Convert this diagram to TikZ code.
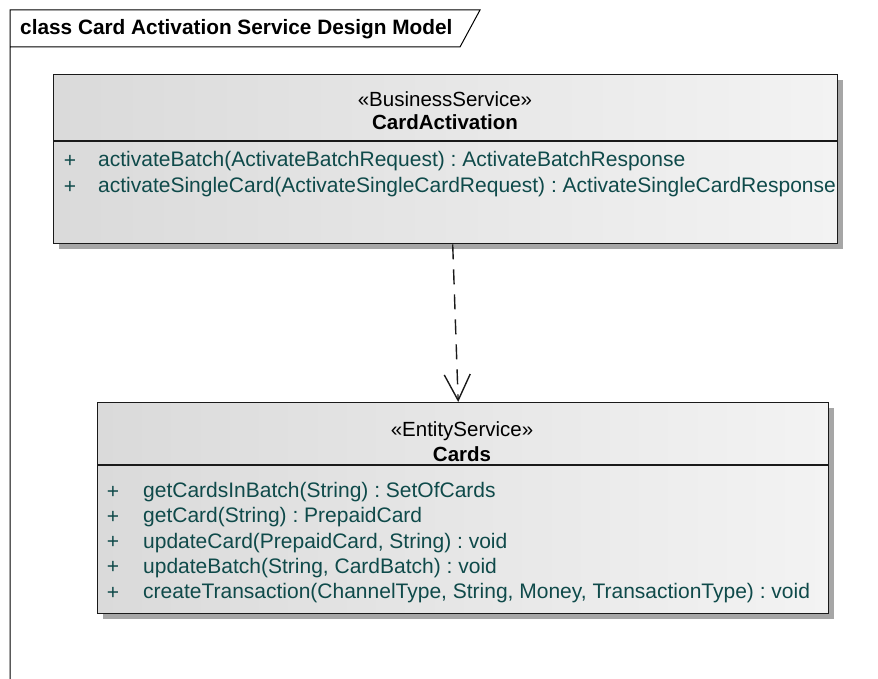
\documentclass[tikz,border=0pt]{standalone}
\usepackage{fontspec}
\setmainfont{Liberation Sans}
\usetikzlibrary{positioning,arrows.meta,shadows}
\definecolor{ClassLeft}{HTML}{DADADA}
\definecolor{ClassRight}{HTML}{F3F3F3}
\definecolor{ClassLine}{HTML}{1A1A1A}
\definecolor{ClassShadow}{HTML}{A6A6A6}
\definecolor{OpTeal}{HTML}{0F4A4A}
\frenchspacing

\begin{document}
\begin{tikzpicture}[x=1pt,y=-1pt,
  classbox/.style={draw=ClassLine,line width=1.4pt,left color=ClassLeft,right color=ClassRight,
    inner sep=0pt,anchor=north west,
    drop shadow={shadow xshift=5pt,shadow yshift=-5pt,fill=ClassShadow,opacity=1}},
  stereo/.style={font=\fontsize{20.5}{24}\selectfont,inner sep=0pt},
  clsname/.style={font=\fontsize{20.5}{24}\selectfont\bfseries,inner sep=0pt},
  opsign/.style={font=\fontsize{21}{24}\selectfont,text=OpTeal,inner sep=0pt},
  optext/.style={font=\fontsize{21}{24}\selectfont,text=OpTeal,inner sep=0pt,anchor=west},
  depend/.style={draw=ClassLine,line width=1.4pt,dash pattern=on 15pt off 10pt,
    -{Straight Barb[length=26pt,width=26pt,line width=1.4pt]}}]
  \useasboundingbox (0,0) rectangle (878,679);

  % diagram frame with its title tab
  \node[font=\fontsize{20.8}{24}\selectfont\bfseries,anchor=west,inner sep=0pt] (frametitle) at (20,29) {class Card Activation Service Design Model};
  \draw[line width=1pt] (10,679) -- (10,10) -- (480,10) -- (460,47) -- (10,47);

  % business service
  \node[classbox,minimum width=784pt,minimum height=169pt] (activation) at (53,74) {};
  \draw[ClassLine,line width=1.1pt] (activation.west |- 0,141) -- (activation.east |- 0,141);
  \node[stereo] (activation-st) at (445,99) {«BusinessService»};
  \node[clsname] (activation-name) at (445,122) {CardActivation};
  \node[opsign] (activation-p1) at (70,161) {+};
  \node[optext] (activation-op1) at (98,161) {activateBatch(ActivateBatchRequest) : ActivateBatchResponse};
  \node[opsign] (activation-p2) at (70,187) {+};
  \node[optext] (activation-op2) at (98,187) {activateSingleCard(ActivateSingleCardRequest) : ActivateSingleCardResponse};

  % entity service
  \node[classbox,minimum width=731pt,minimum height=211pt] (cards) at (97,402) {};
  \draw[ClassLine,line width=1.1pt] (cards.west |- 0,465) -- (cards.east |- 0,465);
  \node[stereo] (cards-st) at (462,431) {«EntityService»};
  \node[clsname] (cards-name) at (462,454) {Cards};
  \foreach \op [count=\i] in {{getCardsInBatch(String) : SetOfCards},{getCard(String) : PrepaidCard},
      {updateCard(PrepaidCard, String) : void},{updateBatch(String, CardBatch) : void},
      {createTransaction(ChannelType, String, Money, TransactionType) : void}} {
    \node[opsign] (cards-p\i) at (113,467+25.2*\i) {+};
    \node[optext] (cards-op\i) at (143,467+25.2*\i) {\op};
  }

  % dependency
  \draw[depend] ([xshift=7pt]activation.south) -- ([xshift=-5pt]cards.north);
\end{tikzpicture}
\end{document}
